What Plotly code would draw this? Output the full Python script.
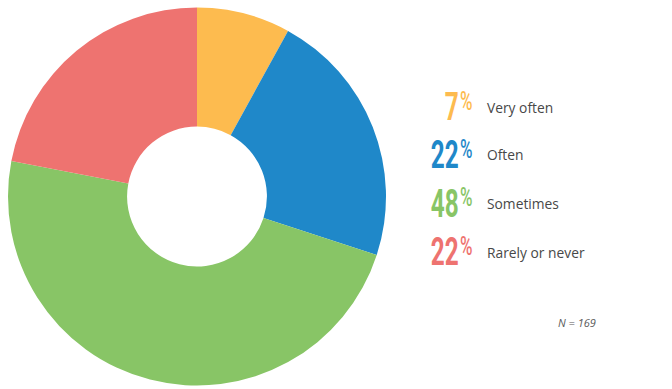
import plotly.graph_objects as go

categories = ["Very often", "Often", "Sometimes", "Rarely or never"]
slice_values = [8, 22, 48, 22]
pct_labels = [7, 22, 48, 22]
colors = ["#FDBB4F", "#1F88C9", "#88C566", "#EE7370"]
note = "N = 169"

W, H = 672, 389

fig = go.Figure()
fig.add_trace(go.Pie(
    labels=categories, values=slice_values, sort=False, direction="clockwise",
    rotation=0, hole=0.37, textinfo="none", hoverinfo="label+percent",
    marker=dict(colors=colors, line=dict(width=0)),
    domain=dict(x=[8 / W, 386 / W], y=[(H - 385.5) / H, (H - 7.5) / H]),
    showlegend=False,
))

num_font = "Roboto"
row_mid = [107, 154.5, 203.5, 252.5]
for cat, p, c, yc in zip(categories, pct_labels, colors, row_mid):
    fig.add_annotation(x=461.5 / W, y=(H - yc) / H, xref="paper", yref="paper",
                       text=str(p), showarrow=False, xanchor="right", yanchor="middle",
                       font=dict(family=num_font, size=38, color=c, weight=700))
    fig.add_annotation(x=457.5 / W, y=(H - (yc - 5.5)) / H, xref="paper", yref="paper",
                       text="%", showarrow=False, xanchor="left", yanchor="middle",
                       font=dict(family=num_font, size=25, color=c, weight=500))
    fig.add_annotation(x=485 / W, y=(H - yc) / H, xref="paper", yref="paper",
                       text=cat, showarrow=False, xanchor="left", yanchor="middle",
                       font=dict(family="Open Sans", size=13.8, color="#484848"))

fig.add_annotation(x=577 / W, y=(H - 322) / H, xref="paper", yref="paper",
                   text="<i>" + note + "</i>", showarrow=False, xanchor="center", yanchor="middle",
                   font=dict(family="Open Sans", size=11, color="#5a5a5a"))

fig.update_layout(width=W, height=H, margin=dict(l=0, r=0, t=0, b=0),
                  paper_bgcolor="white", plot_bgcolor="white")

post = """
document.body.style.margin='0';
function squeeze(){
  document.querySelectorAll('text.annotation-text').forEach(function(t){
    var s = t.textContent.trim();
    var k = null, o = null;
    if (/^\\d+$/.test(s)) { k = 0.64; o = 'right center'; }
    else if (s === '%') { k = 0.68; o = 'left center'; }
    if (k) {
      t.style.transformBox = 'fill-box';
      t.style.transformOrigin = o;
      t.style.transform = 'scaleX(' + k + ')';
    }
  });
}
squeeze();
var gd = document.getElementsByClassName('plotly-graph-div')[0];
if (gd && gd.on) { gd.on('plotly_afterplot', squeeze); }
"""
fig.write_html("out.html", post_script=post, config={"displayModeBar": False})
